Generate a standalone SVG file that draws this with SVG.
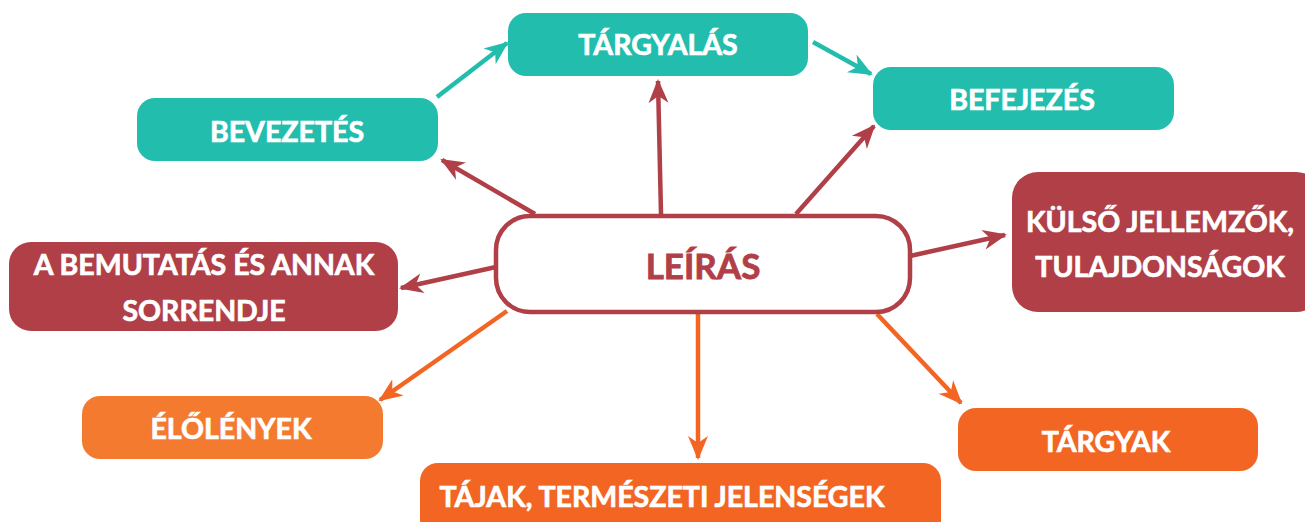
<svg xmlns="http://www.w3.org/2000/svg" width="1305" height="522" viewBox="0 0 1305 522">
<style>
.t{font-family:Lato,"Open Sans","Liberation Sans",sans-serif;font-weight:700;font-size:28.5px;fill:#fff;stroke:#fff;stroke-width:0.7;text-anchor:middle}
.teal{fill:#22BDAD}
.red{fill:#B03F47}
.or1{fill:#F47A30}
.or2{fill:#F26522}
.c{fill:none;stroke-width:4.5}
</style>
<defs>
<marker id="mt" markerUnits="userSpaceOnUse" markerWidth="24" markerHeight="24" viewBox="0 0 24 24" refX="22" refY="12" orient="auto"><path d="M0,2 L24,12 L0,22 L7,12 z" fill="#22BDAD"/></marker>
<marker id="mr" markerUnits="userSpaceOnUse" markerWidth="24" markerHeight="24" viewBox="0 0 24 24" refX="22" refY="12" orient="auto"><path d="M0,2 L24,12 L0,22 L7,12 z" fill="#B03F47"/></marker>
<marker id="mo" markerUnits="userSpaceOnUse" markerWidth="24" markerHeight="24" viewBox="0 0 24 24" refX="22" refY="12" orient="auto"><path d="M0,2 L24,12 L0,22 L7,12 z" fill="#F26522"/></marker>
</defs>
<g id="connectors">
<line class="c" stroke="#22BDAD" x1="437" y1="97" x2="507" y2="43" marker-end="url(#mt)"/>
<line class="c" stroke="#22BDAD" x1="813" y1="42" x2="871" y2="74" marker-end="url(#mt)"/>
<line class="c" stroke="#B03F47" x1="535" y1="214" x2="442" y2="160" marker-end="url(#mr)"/>
<line class="c" stroke="#B03F47" x1="661" y1="214" x2="658" y2="81" marker-end="url(#mr)"/>
<line class="c" stroke="#B03F47" x1="796" y1="214" x2="874" y2="126" marker-end="url(#mr)"/>
<line class="c" stroke="#B03F47" x1="910" y1="256" x2="1005" y2="235" marker-end="url(#mr)"/>
<line class="c" stroke="#B03F47" x1="496" y1="267" x2="401" y2="288" marker-end="url(#mr)"/>
<line class="c" stroke="#F26522" x1="507" y1="311" x2="380" y2="400" marker-end="url(#mo)"/>
<line class="c" stroke="#F26522" x1="698" y1="314" x2="698" y2="458" marker-end="url(#mo)"/>
<line class="c" stroke="#F26522" x1="877" y1="314" x2="961" y2="403" marker-end="url(#mo)"/>
</g>
<g id="leiras"><rect x="496" y="216" width="414" height="96" rx="34" fill="#fff" stroke="#B03F47" stroke-width="4.5"/><text x="703" y="279" font-family="Lato,'Open Sans','Liberation Sans',sans-serif" font-weight="700" font-size="35" fill="#B03F47" stroke="#B03F47" stroke-width="0.8" text-anchor="middle">LEÍRÁS</text></g>
<g id="targyalas"><rect class="teal" x="508" y="13" width="300" height="63" rx="18"/><text class="t" x="658" y="55">TÁRGYALÁS</text></g>
<g id="befejezes"><rect class="teal" x="873" y="67" width="301" height="63" rx="18"/><text class="t" x="1022" y="110">BEFEJEZÉS</text></g>
<g id="bevezetes"><rect class="teal" x="137" y="98" width="301" height="63" rx="18"/><text class="t" x="287" y="142">BEVEZETÉS</text></g>
<g id="bemutatas"><rect class="red" x="9" y="242" width="389" height="89" rx="22"/><text class="t" x="204" y="275">A BEMUTATÁS ÉS ANNAK</text><text class="t" x="204" y="321">SORRENDJE</text></g>
<g id="kulso"><rect class="red" x="1012" y="172" width="310" height="140" rx="26"/><text class="t" x="1160" y="232">KÜLSŐ JELLEMZŐK,</text><text class="t" x="1160" y="277">TULAJDONSÁGOK</text></g>
<g id="elolenyek"><rect class="or1" x="82" y="396" width="301" height="63" rx="18"/><text class="t" x="231" y="439">ÉLŐLÉNYEK</text></g>
<g id="tajak"><rect class="or2" x="420" y="463" width="521" height="80" rx="18"/><text class="t" x="662" y="507">TÁJAK, TERMÉSZETI JELENSÉGEK</text></g>
<g id="targyak"><rect class="or2" x="958" y="408" width="300" height="63" rx="18"/><text class="t" x="1106" y="452">TÁRGYAK</text></g>
</svg>
